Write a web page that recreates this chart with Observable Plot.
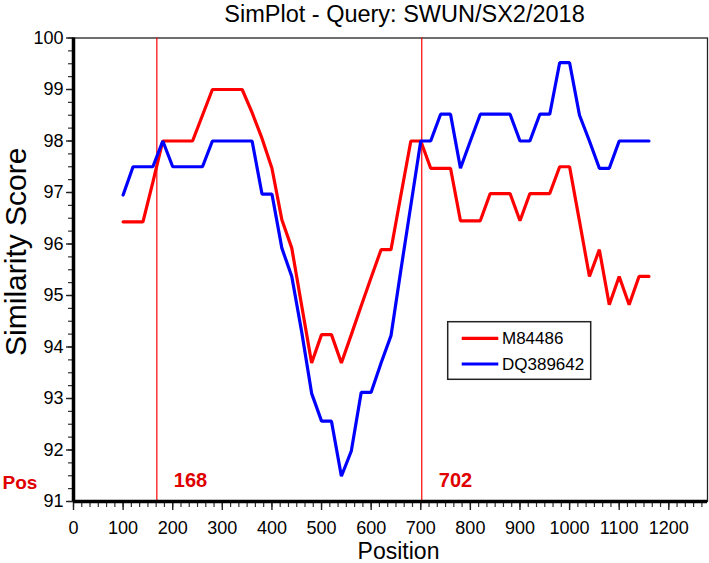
<!DOCTYPE html>
<html>
<head>
<meta charset="utf-8">
<script src="https://cdn.jsdelivr.net/npm/d3@7"></script>
<script src="https://cdn.jsdelivr.net/npm/@observablehq/plot@0.6"></script>
<style>
  html, body { margin: 0; padding: 0; background: #fff; }
  #chart svg { display: block; }
</style>
</head>
<body>
<div id="chart"></div>
<script>
const titleText = "SimPlot - Query: SWUN/SX2/2018";
const xLabel = "Position";
const yLabel = "Similarity Score";
const seriesNames = ["M84486", "DQ389642"];
const seriesColors = ["#ff0000", "#0000ff"];

const positions = [100,120,140,160,180,200,220,240,260,280,300,320,340,360,380,400,420,440,460,480,500,520,540,560,580,600,620,640,660,680,700,720,740,760,780,800,820,840,860,880,900,920,940,960,980,1000,1020,1040,1060,1080,1100,1120,1140,1160];

const m84486 = [96.43,96.43,96.43,97.2,98,98,98,98,98.5,99,99,99,99,98.55,98.05,97.47,96.47,95.92,94.8,93.69,94.24,94.24,93.69,94.24,94.8,95.35,95.89,95.89,96.95,98,98,97.47,97.47,97.47,96.45,96.45,96.45,96.98,96.98,96.98,96.45,96.98,96.98,96.98,97.5,97.5,96.44,95.37,95.89,94.82,95.37,94.82,95.37,95.37];

const dq389642 = [96.95,97.5,97.5,97.5,98,97.5,97.5,97.5,97.5,98,98,98,98,98,96.97,96.97,95.92,95.37,94.29,93.1,92.56,92.56,91.49,91.98,93.12,93.12,93.69,94.22,95.5,96.75,98,98,98.52,98.52,97.47,98,98.52,98.52,98.52,98.52,98,98,98.52,98.52,99.52,99.52,98.5,98,97.47,97.47,98,98,98,98];

const breakpoints = [168, 702];
const breakLabels = ["168", "702"];
const posLabel = "Pos";

const xTicks = [0,100,200,300,400,500,600,700,800,900,1000,1100,1200];
const xMinorTicks = d3.range(0, 1278, 100/6);
const yTicks = [91,92,93,94,95,96,97,98,99,100];
const yMinorTicks = d3.range(91, 100.001, 0.25);

const table = positions.flatMap((p, i) => [
  {pos: p, score: m84486[i], series: seriesNames[0]},
  {pos: p, score: dq389642[i], series: seriesNames[1]}
]);
const breakTable = breakpoints.map((b, i) => ({pos: b, label: breakLabels[i]}));

const font = "'Liberation Sans', Arial, Helvetica, sans-serif";

const chart = Plot.plot({
  width: 709,
  height: 563,
  marginLeft: 73,
  marginRight: 2,
  marginTop: 37.5,
  marginBottom: 62,
  style: {fontFamily: font, background: "#fff", color: "#000"},
  x: {domain: [0, 1278], label: null},
  y: {domain: [91, 100], label: null},
  marks: [
    Plot.frame({stroke: "#222", strokeWidth: 1.3}),
    Plot.ruleX(breakpoints, {stroke: "#ff0000", strokeWidth: 1.2}),
    Plot.line(table.filter(d => d.series === seriesNames[0]), {x: "pos", y: "score", stroke: seriesColors[0], strokeWidth: 3.2, strokeLinejoin: "miter"}),
    Plot.line(table.filter(d => d.series === seriesNames[1]), {x: "pos", y: "score", stroke: seriesColors[1], strokeWidth: 3.2, strokeLinejoin: "miter"}),
    Plot.axisX(xMinorTicks, {tickSize: 6, tickFormat: () => "", stroke: "#333", strokeWidth: 1.2, label: null}),
    Plot.axisX(xTicks, {tickSize: 9, tickPadding: 11, fontSize: 18, tickFormat: d3.format("d"), stroke: "#222", strokeWidth: 1.4, label: null, fill: "#000"}),
    Plot.axisY(yMinorTicks, {tickSize: 5, tickFormat: () => "", stroke: "#333", strokeWidth: 1.2, label: null}),
    Plot.axisY(yTicks, {tickSize: 7, tickPadding: 3, fontSize: 18, tickFormat: d3.format("d"), stroke: "#222", strokeWidth: 1.4, label: null, fill: "#000"}),
    Plot.ruleY([91], {stroke: "#000", strokeWidth: 3.5}),
    Plot.ruleX([0], {stroke: "#000", strokeWidth: 3.5}),
    Plot.text(breakTable, {x: "pos", y: 91, text: "label", dx: 17, dy: -21, textAnchor: "start", lineAnchor: "middle", fill: "#e00000", fontWeight: "bold", fontSize: 20}),
    Plot.text([posLabel], {frameAnchor: "bottom-left", dx: -71, dy: -19, textAnchor: "start", lineAnchor: "middle", fill: "#e00000", fontWeight: "bold", fontSize: 19}),
    Plot.text([titleText], {frameAnchor: "top", dx: 14, dy: -24, textAnchor: "middle", lineAnchor: "middle", fontSize: 23.5, fill: "#000"}),
    Plot.text([xLabel], {frameAnchor: "bottom", dx: 8, dy: 50, textAnchor: "middle", lineAnchor: "middle", fontSize: 23, fill: "#000"}),
    Plot.text([yLabel], {frameAnchor: "left", dx: -57, dy: -18, rotate: -90, textAnchor: "middle", lineAnchor: "middle", fontSize: 30, fill: "#000"})
  ]
});

document.getElementById("chart").appendChild(chart);

// Legend box drawn onto the same SVG
const svg = d3.select(chart);
const lg = svg.append("g").attr("font-family", font).attr("text-anchor", "start");
lg.append("rect").attr("x", 447.7).attr("y", 321.7).attr("width", 143).attr("height", 57.6)
  .attr("fill", "#fff").attr("stroke", "#222").attr("stroke-width", 1.5);
seriesNames.forEach((name, i) => {
  const y = 338.3 + i * 25.7;
  lg.append("line").attr("x1", 461.7).attr("x2", 498.3).attr("y1", y).attr("y2", y)
    .attr("stroke", seriesColors[i]).attr("stroke-width", 3.2);
  lg.append("text").attr("x", 502).attr("y", y).attr("dy", "0.35em")
    .attr("text-anchor", "start")
    .attr("font-size", 17).attr("fill", "#000").text(name);
});
</script>
</body>
</html>
